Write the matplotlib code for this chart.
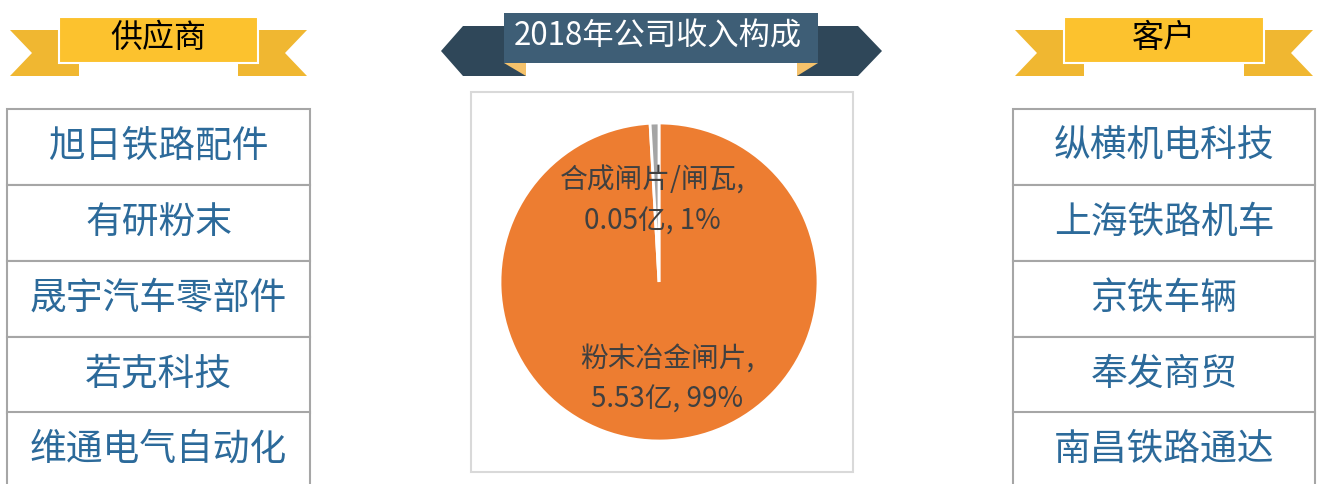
#!/usr/bin/env python3
# plot.py - 2018 revenue breakdown with suppliers / customers panels

import matplotlib
matplotlib.use("Agg")
import matplotlib.pyplot as plt
from matplotlib.patches import Polygon, Rectangle

plt.rcParams['font.family'] = ['Noto Sans CJK SC', 'DejaVu Sans']

# data
title = "2018年公司收入构成"
segments = ["粉末冶金闸片", "合成闸片/闸瓦"]
revenue = [5.53, 0.05]  # 亿元
seg_colors = ["#ED7D31", "#A5A5A5"]
left_title = "供应商"
suppliers = ["旭日铁路配件", "有研粉末", "晟宇汽车零部件", "若克科技", "维通电气自动化"]
right_title = "客户"
customers = ["纵横机电科技", "上海铁路机车", "京铁车辆", "奉发商贸", "南昌铁路通达"]

W, H = 1321, 484
fig = plt.figure(figsize=(W / 100, H / 100), dpi=100)
ax = fig.add_axes([0, 0, 1, 1])


def Y(y):
    # image pixel row -> data y
    return H - y


def poly(pts, color, z=2, ec="none", lw=0):
    ax.add_patch(Polygon([(x, Y(y)) for x, y in pts], closed=True,
                         facecolor=color, edgecolor=ec, linewidth=lw, zorder=z))


def yellow_ribbon(x0, x1, text):
    # tails
    poly([(x0 - 49, 30), (x0 + 20, 30), (x0 + 20, 76), (x0 - 49, 76), (x0 - 27, 53)], "#F0B731")
    poly([(x1 + 49, 30), (x1 - 20, 30), (x1 - 20, 76), (x1 + 49, 76), (x1 + 27, 53)], "#F0B731")
    poly([(x0, 17), (x1, 17), (x1, 63), (x0, 63)], "#FCC22E", z=3, ec="white", lw=1.5)
    ax.text((x0 + x1) / 2, Y(38), text, ha="center", va="center",
            fontsize=23, color="black", zorder=4)


yellow_ribbon(59, 258, left_title)
yellow_ribbon(1064, 1264, right_title)

# center dark ribbon
poly([(463, 26), (526, 26), (526, 76), (463, 76), (441, 51)], "#2F4759")
poly([(858, 26), (797, 26), (797, 76), (858, 76), (882, 51)], "#2F4759")
poly([(504, 63), (526, 63), (526, 76)], "#F5C26B", z=2.5)
poly([(797, 63), (818, 63), (797, 76)], "#F5C26B", z=2.5)
poly([(504, 13), (818, 13), (818, 63), (504, 63)], "#3E5E76", z=3)
ax.text(658, Y(37), title, ha="center", va="center", fontsize=22.5,
        color="white", zorder=4)


def box_list(x0, x1, items):
    tops = [109, 185, 261, 337, 412]
    h = 76
    for t, name in zip(tops, items):
        ax.add_patch(Rectangle((x0, Y(t + h)), x1 - x0, h, facecolor="white",
                               edgecolor="#A6A6A6", linewidth=1.5, zorder=2))
        ax.text((x0 + x1) / 2, Y(t + 37), name, ha="center", va="center",
                fontsize=26.5, color="#2C6A9A", fontweight="light", zorder=3)


box_list(7, 310, suppliers)
box_list(1013, 1315, customers)

# pie frame
ax.add_patch(Rectangle((471, Y(472)), 382, 380, facecolor="white",
                       edgecolor="#D9D9D9", linewidth=1.5, zorder=1))

ax.pie(revenue, colors=seg_colors, startangle=90, counterclock=False,
       center=(659, Y(282)), radius=159,
       wedgeprops=dict(edgecolor="white", linewidth=2))

total = sum(revenue)
label_pos = [(667, 379), (652, 201)]
for name, v, (lx, ly) in zip(segments, revenue, label_pos):
    pct = round(v / total * 100)
    ax.text(lx, Y(ly), f"{name},\n{v:.2f}亿, {pct}%", ha="center", va="center",
            fontsize=20, color="#404040", linespacing=1.5, zorder=5)

ax.set_xlim(0, W)
ax.set_ylim(0, H)
ax.set_aspect("equal")
ax.axis("off")

fig.savefig("out.png", dpi=100)
